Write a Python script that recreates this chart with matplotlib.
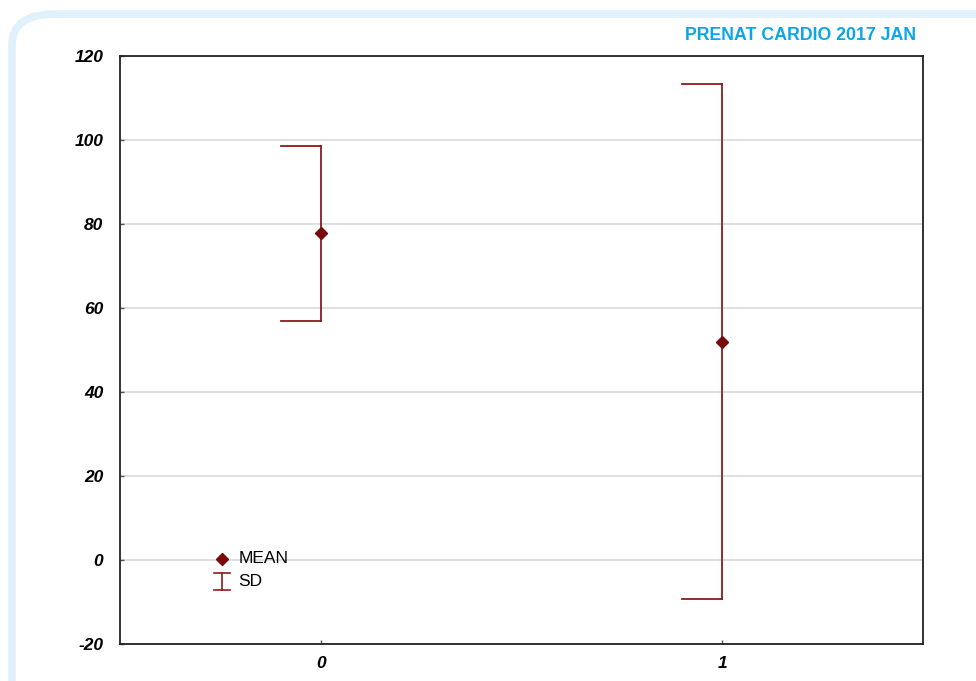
import matplotlib.pyplot as plt
from matplotlib.patches import FancyBboxPatch

plt.rcParams['axes.unicode_minus'] = False

# data
groups = [0, 1]
means = [77.8, 52.0]
sds = [20.8, 61.3]
yticks = [-20, 0, 20, 40, 60, 80, 100, 120]

red = '#8b1c1c'
mk = '#7a0a0a'

fig = plt.figure(figsize=(9.76, 6.81), dpi=100)

# rounded light blue frame
frame = FancyBboxPatch((12/976, -0.2), 1.2, 1 - 14/681 + 0.2,
                       boxstyle="round,pad=0,rounding_size=0.045",
                       transform=fig.transFigure, fill=False,
                       edgecolor='#e0f1fb', linewidth=5.5, zorder=0)
fig.patches.append(frame)

fig.text(916/976, 1 - 35/681, "PRENAT CARDIO 2017 JAN", color='#0aa6e8',
         fontsize=12.8, fontweight='bold', ha='right', va='center',
         family='Liberation Sans')

ax = fig.add_axes([120/976, 1 - 644/681, 803/976, 588/681])
ax.set_xlim(-0.5, 1.5)
ax.set_ylim(-20, 120)

ax.set_yticks(yticks)
ax.set_xticks(groups)
ax.grid(axis='y', color='#d9d9d9', linewidth=1.2)
ax.set_axisbelow(True)
ax.tick_params(direction='in', length=3, width=1, color='#555555')
ax.tick_params(axis='y', pad=12)
ax.tick_params(axis='x', pad=9)
for lab in ax.get_xticklabels() + ax.get_yticklabels():
    lab.set_fontstyle('italic')
    lab.set_fontweight('bold')
    lab.set_fontfamily('Liberation Sans')
    lab.set_fontsize(12.5)
for s in ax.spines.values():
    s.set_linewidth(1.3)
    s.set_color('#222222')

cap = 0.1
for g, m, s in zip(groups, means, sds):
    ax.plot([g, g], [m - s, m + s], color=red, linewidth=1.3)
    ax.plot([g - cap, g], [m + s, m + s], color=red, linewidth=1.3)
    ax.plot([g - cap, g], [m - s, m - s], color=red, linewidth=1.3)
ax.plot(groups, means, linestyle='none', marker='D', markersize=6,
        color=mk, zorder=3)

# legend
ax.plot([-0.245], [0.3], marker='D', markersize=6, color=mk, linestyle='none')
ax.plot([-0.245, -0.245], [-7.2, -3.0], color=red, linewidth=1.2)
ax.plot([-0.265, -0.225], [-3.0, -3.0], color=red, linewidth=1.2)
ax.plot([-0.265, -0.225], [-7.2, -7.2], color=red, linewidth=1.2)
ax.text(-0.205, 0.3, "MEAN", fontsize=12.5, va='center', family='Liberation Sans')
ax.text(-0.205, -5.1, "SD", fontsize=12.5, va='center', family='Liberation Sans')

fig.savefig('out.png', dpi=100)
